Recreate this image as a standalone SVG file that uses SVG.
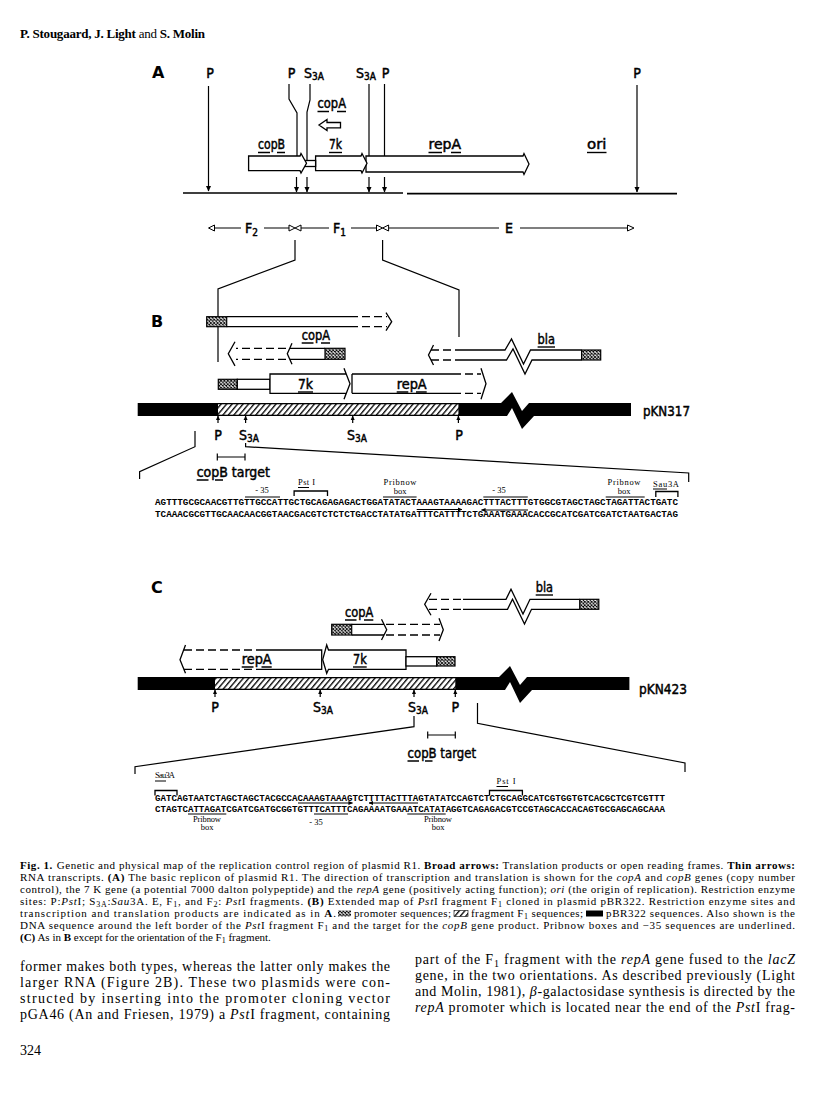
<svg xmlns="http://www.w3.org/2000/svg" width="816" height="1093" viewBox="0 0 816 1093">
<style>
.ln{fill:none;stroke:#000;stroke-width:1.2}
.bl{fill:none;stroke:#000;stroke-width:1.6}
.bx{fill:#fff;stroke:#000;stroke-width:1.3}
.wf{fill:#fff;stroke:none}
.so{fill:none;stroke:#000;stroke-width:1.3}
.ds{fill:none;stroke:#000;stroke-width:1.3;stroke-dasharray:8 4}
.pr{fill:url(#xh);stroke:#000;stroke-width:1.2}
.tri{fill:#fff;stroke:#000;stroke-width:1}
.lb{font-family:"DejaVu Sans Condensed","DejaVu Sans","Liberation Sans",sans-serif;font-weight:normal;font-size:14px;fill:#000;stroke:#000;stroke-width:0.45}
.pn{font-family:"DejaVu Sans","Liberation Sans",sans-serif;font-weight:bold;font-size:16px}
.sq{font-family:"Liberation Mono",monospace;font-weight:bold;font-size:9.3px}
.sm{font-family:"Liberation Serif",serif;font-size:8.5px}
.cap{font-family:"Liberation Serif",serif;font-size:11px}
.bd{font-family:"Liberation Serif",serif;font-size:14px}
.ul{stroke:#000;stroke-width:1.4}
.u1{stroke:#000;stroke-width:1}
</style>
<defs>
<pattern id="xh" width="3.4" height="3.4" patternUnits="userSpaceOnUse"><rect width="3.4" height="3.4" fill="#fff"/><path d="M0,0L3.4,3.4M3.4,0L0,3.4" stroke="#000" stroke-width="0.9"/></pattern>
<pattern id="dh" width="4.2" height="20" patternUnits="userSpaceOnUse" patternTransform="rotate(40)"><rect width="4.2" height="20" fill="#fff"/><line x1="0.7" y1="0" x2="0.7" y2="20" stroke="#000" stroke-width="1.3"/></pattern>
<marker id="ah" viewBox="0 0 10 10" refX="9" refY="5" markerWidth="6" markerHeight="6" markerUnits="userSpaceOnUse" orient="auto"><path d="M0,0.5L10,5L0,9.5z"/></marker>
<marker id="at" viewBox="0 0 10 10" refX="9" refY="5" markerWidth="4.5" markerHeight="4.5" markerUnits="userSpaceOnUse" orient="auto"><path d="M0,0.5L10,5L0,9.5z"/></marker>
</defs>
<rect width="816" height="1093" fill="#fff"/>

<text id="header" x="20" y="38" font-family="Liberation Serif,serif" font-size="13" textLength="185"><tspan font-weight="bold">P. Stougaard, J. Light</tspan> and <tspan font-weight="bold">S. Molin</tspan></text>

<!-- ================= PANEL A ================= -->
<g id="panelA">
<text class="pn" x="152" y="78">A</text>
<text class="lb" x="210" y="78" text-anchor="middle">P</text>
<text class="lb" x="291.5" y="78" text-anchor="middle">P</text>
<text class="lb" x="304" y="78">S<tspan font-size="10" dy="2">3A</tspan></text>
<text class="lb" x="356" y="78">S<tspan font-size="10" dy="2">3A</tspan></text>
<text class="lb" x="385.5" y="78" text-anchor="middle">P</text>
<text class="lb" x="637" y="78" text-anchor="middle">P</text>
</g>

<g id="connectors">
<path class="ln" d="M208.5,86V191" marker-end="url(#ah)"/>
<path class="ln" d="M637,85V192" marker-end="url(#ah)"/>
<path class="ln" d="M289,84V99L297,113V156"/>
<path class="ln" d="M310,84V100L307,112V161"/>
<path class="ln" d="M369,84V156"/>
<path class="ln" d="M384.5,84V156"/>
<path class="ln" d="M296.5,177V192" marker-end="url(#ah)"/>
<path class="ln" d="M307,177V192" marker-end="url(#ah)"/>
<path class="ln" d="M369,177V192" marker-end="url(#ah)"/>
<path class="ln" d="M384.5,177V192" marker-end="url(#ah)"/>
<path class="bl" d="M183,193H403M407,193.6H677"/>
<path class="ln" d="M214.5,228H241M264,228H289M301,228H329M351,228H376.5M388.6,228H499M520,228H627.5"/>
<path class="ln" d="M295,240V260L218,289V362"/>
<path class="ln" d="M382.6,240V260L459,290V337"/>
<path class="ln" d="M195,431V446.7L139.6,471.7V479"/>
<path class="ln" d="M245.6,443V446.7L688.7,473V482"/>
<path class="ln" d="M414,716V726.7L135,766.7V774"/>
<path class="ln" d="M477.5,703V723.3L685,763V772"/>
</g>

<g id="fragments">
<polygon class="tri" points="208.5,228 214.5,225 214.5,231"/>
<polygon class="tri" points="289,225 289,231 295,228"/>
<polygon class="tri" points="295,228 301,225 301,231"/>
<polygon class="tri" points="376.5,225 376.5,231 382.6,228"/>
<polygon class="tri" points="382.6,228 388.6,225 388.6,231"/>
<polygon class="tri" points="627.5,225 627.5,231 634,228"/>
<text class="lb" x="245" y="233">F<tspan font-size="10" dy="2.5">2</tspan></text>
<text class="lb" x="333" y="233">F<tspan font-size="10" dy="2.5">1</tspan></text>
<text class="lb" x="505" y="233">E</text>
</g>

<g id="genesA">
<polygon class="bx" points="366,156 523,156 524,153.5 529,164 524,174.5 523,172 366,172"/>
<polygon class="bx" points="315.6,156 361,156 362,153.5 367,163.3 362,173 361,170.7 315.6,170.7"/>
<rect class="bx" x="305" y="160.5" width="10.6" height="6"/>
<polygon class="bx" points="248.6,156 300,156 301,153.5 306.5,163.3 301,173 300,170.7 248.6,170.7"/>
<polygon class="bx" points="319,125 327,119.5 327,122.5 340.5,122.5 340.5,127.8 327,127.8 327,130.5"/>
<text class="lb" x="258" y="149" textLength="27" lengthAdjust="spacingAndGlyphs">copB</text>
<path class="ul" d="M258,152.5H270M277,152.5H285"/>
<text class="lb" x="329" y="149" textLength="13" lengthAdjust="spacingAndGlyphs">7k</text>
<path class="ul" d="M329,152.5H342"/>
<text class="lb" x="428.5" y="149" textLength="32.5" lengthAdjust="spacingAndGlyphs">repA</text>
<path class="ul" d="M428.5,152.5H442M451,152.5H461"/>
<text class="lb" x="587" y="149" textLength="19.5" lengthAdjust="spacingAndGlyphs">ori</text>
<path class="ul" d="M587,152.5H606.5"/>
<text class="lb" x="317.5" y="108" textLength="28.5" lengthAdjust="spacingAndGlyphs">copA</text>
<path class="ul" d="M317.5,111.5H329M337,111.5H346"/>
</g>

<!-- ================= PANEL B ================= -->
<g id="panelB">
<text class="pn" x="151" y="327">B</text>
<g id="b-transcript1">
<rect class="wf" x="226.7" y="316.7" width="123.3" height="10"/>
<path class="so" d="M226.7,316.7H350M226.7,326.7H350"/>
<path class="ds" d="M350,316.7H387M350,326.7H387"/>
<path class="so" d="M386,312.7L391.7,321.7L386,330.7"/>
<rect class="pr" x="206.7" y="316.7" width="20" height="10"/>
</g>
<g id="b-copA">
<rect class="wf" x="290" y="348.3" width="35" height="11"/>
<path class="so" d="M290,348.3H325M290,359.3H325"/>
<path class="so" d="M292,343.3L287.3,353.8L292,364.3"/>
<path class="ds" d="M286,348.3H236M286,359.3H236"/>
<path class="so" d="M235,341.7L228.3,353.8L235,365.9"/>
<rect class="pr" x="325" y="348.3" width="20" height="11"/>
<text class="lb" x="301.7" y="340" textLength="28.3" lengthAdjust="spacingAndGlyphs">copA</text>
<path class="ul" d="M301.7,343H313.5M321,343H330"/>
</g>
<g id="b-bla">
<path class="so" d="M433.5,345L428.5,355L433.5,365"/>
<path class="ds" d="M431,350H459M431,360H459"/>
<path class="so" d="M459,350H505L511.5,339L523.5,364L530.5,350H581.6M459,360H506.5L513,349L525,374L532,360H581.6"/>
<rect class="pr" x="581.6" y="350" width="19.1" height="10"/>
<text class="lb" x="537.6" y="344" textLength="17.4" lengthAdjust="spacingAndGlyphs">bla</text>
<path class="ul" d="M537.6,347H555"/>
</g>
<g id="b-7k-repA">
<rect class="pr" x="218.3" y="379.3" width="19" height="10"/>
<rect class="bx" x="237.3" y="379.3" width="32.7" height="10"/>
<rect class="wf" x="352" y="374" width="129" height="19.3"/>
<path class="so" d="M352,374V393.3M352,374H453M352,393.3H453"/>
<path class="ds" d="M453,374H481M453,393.3H481"/>
<path class="so" d="M481,368.3L486,383.7L481,399.3"/>
<polygon class="bx" points="270,374 346.2,374 344,368.3 350,383.7 344,399.3 346.2,393.3 270,393.3"/>
<text class="lb" x="298" y="389" textLength="15" lengthAdjust="spacingAndGlyphs">7k</text>
<path class="ul" d="M298,392H313"/>
<text class="lb" x="396.7" y="389" textLength="30" lengthAdjust="spacingAndGlyphs">repA</text>
<path class="ul" d="M396.7,392H408.3M416,392H426.7"/>
</g>
<g id="b-plasmid">
<polygon fill="#000" points="137.7,403 501,403 512,392 522,411 529,403 631,403 631,416 534,416 522,429 512,408 507,416 137.7,416"/>
<rect x="218" y="404.3" width="240.4" height="10.4" fill="url(#dh)"/>
<path class="ln" d="M218,423V416" marker-end="url(#at)"/>
<path class="ln" d="M245.6,423V416" marker-end="url(#at)"/>
<path class="ln" d="M352.7,423V416" marker-end="url(#at)"/>
<path class="ln" d="M458.4,423V416" marker-end="url(#at)"/>
<text class="lb" x="218" y="440" text-anchor="middle">P</text>
<text class="lb" x="239" y="440">S<tspan font-size="10" dy="2">3A</tspan></text>
<text class="lb" x="347" y="440">S<tspan font-size="10" dy="2">3A</tspan></text>
<text class="lb" x="459" y="440" text-anchor="middle">P</text>
<text class="lb" x="643" y="416" font-size="15" textLength="47" lengthAdjust="spacingAndGlyphs">pKN317</text>
</g>
<g id="b-copBtarget">
<path class="ln" d="M217.3,457H245M217.3,453.5V460.5M245,453.5V460.5"/>
<text class="lb" x="196.7" y="477" textLength="73.3" lengthAdjust="spacingAndGlyphs">copB target</text>
<path class="ul" d="M196.7,480H208.5M215,480H223"/>
</g>
<g id="b-sequence">
<text class="sm" x="262" y="493" text-anchor="middle">- 35</text>
<path class="u1" d="M245,497H280"/>
<text class="sm" x="298" y="485" textLength="17">Pst I</text>
<path class="u1" d="M298,487.5H309"/>
<path class="so" d="M294.1,496V491H327.5V496"/>
<text class="sm" x="400" y="485" text-anchor="middle" textLength="33">Pribnow</text>
<text class="sm" x="400" y="494" text-anchor="middle">box</text>
<path class="u1" d="M383,497H416.6"/>
<text class="sm" x="499" y="493" text-anchor="middle">- 35</text>
<path class="u1" d="M483.3,497H527.8"/>
<text class="sm" x="624" y="485" text-anchor="middle" textLength="33">Pribnow</text>
<text class="sm" x="624" y="494" text-anchor="middle">box</text>
<path class="u1" d="M605.7,497H644.7"/>
<text class="sm" x="653" y="487" textLength="26">Sau3A</text>
<path class="u1" d="M653,489H667"/>
<path class="so" d="M655.8,497V491.5H677.9V497"/>
<text class="sq" x="155" y="505" textLength="523" lengthAdjust="spacingAndGlyphs">AGTTTGCGCAACGTTGTTGCCATTGCTGCAGAGAGACTGGATATACTAAAGTAAAAGACTTTACTTTGTGGCGTAGCTAGCTAGATTACTGATC</text>
<text class="sq" x="155" y="517" textLength="523" lengthAdjust="spacingAndGlyphs">TCAAACGCGTTGCAACAACGGTAACGACGTCTCTCTGACCTATATGATTTCATTTTCTGAAATGAAACACCGCATCGATCGATCTAATGACTAG</text>
<path class="ln" d="M416.7,509.5H462" marker-end="url(#at)"/>
<path class="ln" d="M528,510H481.5" marker-end="url(#at)"/>
</g>
</g>

<!-- ================= PANEL C ================= -->
<g id="panelC">
<text class="pn" x="151" y="593">C</text>
<g id="c-bla">
<path class="so" d="M431,593.3L424.7,604.3L431,615.3"/>
<path class="ds" d="M429,599.3H463M429,609.3H463"/>
<path class="so" d="M463,599.3H506L511,589.3L523,614L530,599.3H579.7M463,609.3H507.5L512.5,599.3L524.5,624L531.5,609.3H579.7"/>
<rect class="pr" x="579.7" y="599.3" width="19.1" height="10"/>
<text class="lb" x="535.7" y="592" textLength="17.3" lengthAdjust="spacingAndGlyphs">bla</text>
<path class="ul" d="M535.7,595H553"/>
</g>
<g id="c-copA">
<rect class="wf" x="351.7" y="624.3" width="32.3" height="10.7"/>
<path class="so" d="M351.7,624.3H384M351.7,635H384"/>
<path class="so" d="M381.5,619.3L386.7,629.7L381.5,640"/>
<path class="ds" d="M386,624.3H440M386,635H440"/>
<path class="so" d="M439,618.3L443.3,629.7L439,641.1"/>
<rect class="pr" x="331.7" y="624.3" width="20" height="10.7"/>
<text class="lb" x="345" y="617" textLength="28.3" lengthAdjust="spacingAndGlyphs">copA</text>
<path class="ul" d="M345,620H356.5M364,620H373.3"/>
</g>
<g id="c-repA-7k">
<path class="so" d="M185.5,645L180,659.7L185.5,673.3"/>
<path class="ds" d="M184,650H263M184,669.3H263"/>
<rect class="wf" x="263" y="650" width="58.7" height="19.3"/>
<path class="so" d="M263,650H321.7V669.3H263"/>
<polygon class="bx" points="406,650 328.5,650 326.7,645 322.7,659.7 326.7,673.3 328.5,669.3 406,669.3"/>
<rect class="bx" x="406" y="656.7" width="30.7" height="9.3"/>
<rect class="pr" x="436.7" y="656.7" width="18.3" height="9.3"/>
<text class="lb" x="241.7" y="664" textLength="30" lengthAdjust="spacingAndGlyphs">repA</text>
<path class="ul" d="M241.7,667H253.5M261.5,667H271.7"/>
<text class="lb" x="353" y="664" textLength="13.7" lengthAdjust="spacingAndGlyphs">7k</text>
<path class="ul" d="M353,667H366.7"/>
</g>
<g id="c-plasmid">
<polygon fill="#000" points="137.7,677 499,677 510,666 520,685 527,677 629.4,677 629.4,690 532,690 520,703 510,682 505,690 137.7,690"/>
<rect x="215" y="678.3" width="240.3" height="10.4" fill="url(#dh)"/>
<path class="ln" d="M215,697V690" marker-end="url(#at)"/>
<path class="ln" d="M320.2,697V690" marker-end="url(#at)"/>
<path class="ln" d="M414,697V690" marker-end="url(#at)"/>
<path class="ln" d="M455.3,697V690" marker-end="url(#at)"/>
<text class="lb" x="215" y="712" text-anchor="middle">P</text>
<text class="lb" x="313" y="712">S<tspan font-size="10" dy="2">3A</tspan></text>
<text class="lb" x="408" y="712">S<tspan font-size="10" dy="2">3A</tspan></text>
<text class="lb" x="455.3" y="712" text-anchor="middle">P</text>
<text class="lb" x="639" y="694" font-size="15" textLength="48" lengthAdjust="spacingAndGlyphs">pKN423</text>
</g>
<g id="c-copBtarget">
<path class="ln" d="M427.7,735H455.3M427.7,731.5V738.5M455.3,731.5V738.5"/>
<text class="lb" x="407.5" y="758" textLength="68.5" lengthAdjust="spacingAndGlyphs">copB target</text>
<path class="ul" d="M407.5,761H419M425,761H432.5"/>
</g>
<g id="c-sequence">
<text class="sm" x="155" y="778" textLength="20">Sau3A</text>
<path class="u1" d="M155,781H166"/>
<path class="so" d="M155,795.5V790.5H177V795.5"/>
<text class="sm" x="506" y="784" text-anchor="middle" textLength="19">Pst I</text>
<path class="u1" d="M496.5,786.5H508"/>
<path class="so" d="M489.5,795.5V790.5H522.4V795.5"/>
<text class="sq" x="155" y="800.5" textLength="510" lengthAdjust="spacingAndGlyphs">GATCAGTAATCTAGCTAGCTACGCCACAAAGTAAAGTCTTTTACTTTAGTATATCCAGTCTCTGCAGGCATCGTGGTGTCACGCTCGTCGTTT</text>
<text class="sq" x="155" y="811.5" textLength="510" lengthAdjust="spacingAndGlyphs">CTAGTCATTAGATCGATCGATGCGGTGTTTCATTTCAGAAAATGAAATCATATAGGTCAGAGACGTCCGTAGCACCACAGTGCGAGCAGCAAA</text>
<path class="ln" d="M298,803H352.5" marker-end="url(#at)"/>
<path class="ln" d="M418,803H369" marker-end="url(#at)"/>
<path class="u1" d="M188,814H226.3M314,814H348M407.3,814H445.7"/>
<text class="sm" x="207" y="822" text-anchor="middle" textLength="28">Pribnow</text>
<text class="sm" x="207" y="830" text-anchor="middle">box</text>
<text class="sm" x="316" y="825" text-anchor="middle">- 35</text>
<text class="sm" x="438" y="822" text-anchor="middle" textLength="28">Pribnow</text>
<text class="sm" x="438" y="830" text-anchor="middle">box</text>
</g>
</g>

<!-- ================= CAPTION ================= -->
<g id="caption" class="cap">
<text x="20" y="869" textLength="775"><tspan font-weight="bold">Fig. 1.</tspan><tspan dx="4">Genetic and physical map of the replication control region of plasmid R1. </tspan><tspan font-weight="bold">Broad arrows:</tspan> Translation products or open reading frames. <tspan font-weight="bold">Thin arrows:</tspan></text>
<text x="20" y="881" textLength="775">RNA transcripts. <tspan font-weight="bold">(A)</tspan> The basic replicon of plasmid R1. The direction of transcription and translation is shown for the <tspan font-style="italic">copA</tspan> and <tspan font-style="italic">copB</tspan> genes (copy number</text>
<text x="20" y="893" textLength="775">control), the 7 K gene (a potential 7000 dalton polypeptide) and the <tspan font-style="italic">repA</tspan> gene (positively acting function); <tspan font-style="italic">ori</tspan> (the origin of replication). Restriction enzyme</text>
<text x="20" y="905" textLength="775">sites: P:<tspan font-style="italic">Pst</tspan>I; S<tspan font-size="8" dy="2">3A</tspan><tspan dy="-2">:</tspan><tspan font-style="italic">Sau</tspan>3A. E, F<tspan font-size="8" dy="2">1</tspan><tspan dy="-2">, and F</tspan><tspan font-size="8" dy="2">2</tspan><tspan dy="-2">: </tspan><tspan font-style="italic">Pst</tspan>I fragments. <tspan font-weight="bold">(B)</tspan> Extended map of <tspan font-style="italic">Pst</tspan>I fragment F<tspan font-size="8" dy="2">1</tspan><tspan dy="-2"> cloned in plasmid pBR322. Restriction enzyme sites and</tspan></text>
<text x="20" y="917" textLength="316">transcription and translation products are indicated as in <tspan font-weight="bold">A</tspan>.</text>
<rect x="338" y="910.5" width="13" height="6" fill="url(#xh)"/>
<text x="354" y="917" textLength="97">promoter sequences;</text>
<rect x="454" y="910.5" width="14" height="6" fill="url(#dh)" stroke="#000" stroke-width="0.6"/>
<text x="471" y="917" textLength="112">fragment F<tspan font-size="8" dy="2">1</tspan><tspan dy="-2"> sequences;</tspan></text>
<rect x="586" y="910.5" width="17" height="6" fill="#000"/>
<text x="606" y="917" textLength="189">pBR322 sequences. Also shown is the</text>
<text x="20" y="929" textLength="775">DNA sequence around the left border of the <tspan font-style="italic">Pst</tspan>I fragment F<tspan font-size="8" dy="2">1</tspan><tspan dy="-2"> and the target for the </tspan><tspan font-style="italic">copB</tspan> gene product. Pribnow boxes and −35 sequences are underlined.</text>
<text x="20" y="941"><tspan font-weight="bold">(C)</tspan> As in <tspan font-weight="bold">B</tspan> except for the orientation of the F<tspan font-size="8" dy="2">1</tspan><tspan dy="-2"> fragment.</tspan></text>
</g>

<!-- ================= BODY TEXT ================= -->
<g id="bodytext" class="bd">
<text x="20" y="971" textLength="370">former makes both types, whereas the latter only makes the</text>
<text x="20" y="987" textLength="370">larger RNA (Figure 2B). These two plasmids were con-</text>
<text x="20" y="1003" textLength="370">structed by inserting into the promoter cloning vector</text>
<text x="20" y="1019" textLength="370">pGA46 (An and Friesen, 1979) a <tspan font-style="italic">Pst</tspan>I fragment, containing</text>
<text x="415" y="964" textLength="380">part of the F<tspan font-size="10" dy="3">1</tspan><tspan dy="-3"> fragment with the </tspan><tspan font-style="italic">repA</tspan> gene fused to the <tspan font-style="italic">lacZ</tspan></text>
<text x="415" y="980" textLength="380">gene, in the two orientations. As described previously (Light</text>
<text x="415" y="996" textLength="380">and Molin, 1981), <tspan font-style="italic">β</tspan>-galactosidase synthesis is directed by the</text>
<text x="415" y="1012" textLength="380"><tspan font-style="italic">repA</tspan> promoter which is located near the end of the <tspan font-style="italic">Pst</tspan>I frag-</text>
<text x="20" y="1055">324</text>
</g>
</svg>
